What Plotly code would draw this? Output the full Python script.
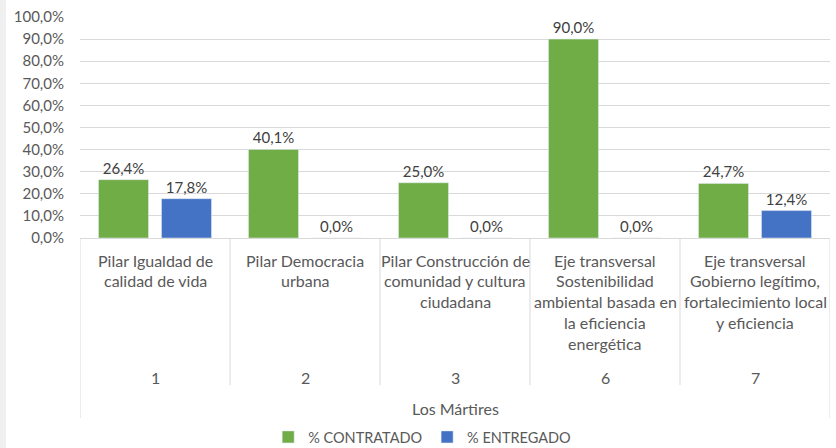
import plotly.graph_objects as go

categories = ["Pilar Igualdad de calidad de vida", "Pilar Democracia urbana",
              "Pilar Construcción de comunidad y cultura ciudadana",
              "Eje transversal Sostenibilidad ambiental basada en la eficiencia energética",
              "Eje transversal Gobierno legítimo, fortalecimiento local y eficiencia"]
category_lines = [
    ["Pilar Igualdad de", "calidad de vida"],
    ["Pilar Democracia", "urbana"],
    ["Pilar Construcción de", "comunidad y cultura", "ciudadana"],
    ["Eje transversal", "Sostenibilidad", "ambiental basada en", "la eficiencia", "energética"],
    ["Eje transversal", "Gobierno legítimo,", "fortalecimiento local", "y eficiencia"],
]
codes = ["1", "2", "3", "6", "7"]
group_label = "Los Mártires"
contratado = [0.264, 0.401, 0.25, 0.90, 0.247]
entregado = [0.178, 0.0, 0.0, 0.0, 0.124]

GREEN = "#70AD47"
BLUE = "#4472C4"
TXT = "#595959"
GRID = "#D9D9D9"
FONT = "Lato, Liberation Sans, sans-serif"
FS = 15
FS_CAT = 16

W, H = 836, 448
L, R, T, B = 80, 6, 17, 210
PH = H - T - B  # plot height px
PW = W - L - R


def py(pix):
    """pixel y (from top) -> paper y"""
    return (H - B - pix) / PH


def px(pix):
    return (pix - L) / PW


fig = go.Figure()
fig.add_trace(go.Bar(name="% CONTRATADO", x=categories, y=contratado, marker_color=GREEN,
                     texttemplate="%{y:.1%}", textposition="outside",
                     textfont=dict(color="#404040", size=FS, family=FONT), cliponaxis=False))
fig.add_trace(go.Bar(name="% ENTREGADO", x=categories, y=entregado, marker_color=BLUE,
                     texttemplate="%{y:.1%}", textposition="outside",
                     textfont=dict(color="#404040", size=FS, family=FONT), cliponaxis=False))

annotations = []
shapes = []
for i, lines in enumerate(category_lines):
    for j, ln in enumerate(lines):
        annotations.append(dict(x=categories[i], xref="x", y=py(260 + j * 20.8), yref="paper",
                                text=ln, showarrow=False, yanchor="middle",
                                font=dict(size=FS_CAT, color=TXT, family=FONT)))
    annotations.append(dict(x=categories[i], xref="x", y=py(377), yref="paper",
                            text=codes[i], showarrow=False, yanchor="middle",
                            font=dict(size=FS_CAT, color=TXT, family=FONT)))
annotations.append(dict(x=0.5, xref="paper", y=py(408), yref="paper", text=group_label,
                        showarrow=False, yanchor="middle",
                        font=dict(size=FS_CAT, color=TXT, family=FONT)))

n = len(categories)
for k in range(n + 1):
    outer = k == 0 or k == n
    shapes.append(dict(type="line", xref="x", yref="paper", x0=k - 0.5, x1=k - 0.5,
                       y0=0, y1=py(418 if outer else 385),
                       line=dict(color=GRID, width=1)))
shapes.append(dict(type="rect", xref="paper", yref="paper", x0=px(0), x1=px(6),
                   y0=py(H), y1=py(0), fillcolor="#F0F0F0", line=dict(width=0), layer="below"))

fig.update_layout(
    width=W, height=H, margin=dict(l=L, r=R, t=T, b=B),
    paper_bgcolor="white", plot_bgcolor="white",
    separators=",.",
    barmode="group", bargap=0.16, bargroupgap=0.206,
    font=dict(family=FONT, size=FS, color=TXT),
    showlegend=True,
    legend=dict(orientation="h", xref="container", yref="container", x=0.505, xanchor="center",
                y=(H - 437) / H, yanchor="middle", font=dict(size=14.5, color=TXT, family=FONT),
                itemwidth=30, tracegroupgap=0),
    annotations=annotations, shapes=shapes,
)
fig.update_xaxes(range=[-0.5, n - 0.5], showticklabels=False, showgrid=False, zeroline=False,
                 showline=False, ticks="")
fig.update_yaxes(range=[0, 1], dtick=0.1, tickformat=".1%", showgrid=True, gridcolor=GRID,
                 gridwidth=1, zeroline=True, zerolinecolor=GRID, zerolinewidth=1,
                 showline=False, ticks="", ticklabelstandoff=15,
                 tickfont=dict(size=FS, color=TXT, family=FONT))

fig.write_html("out.html", config={"displayModeBar": False},
               post_script="document.body.style.margin='0';document.body.style.overflow='hidden';")
